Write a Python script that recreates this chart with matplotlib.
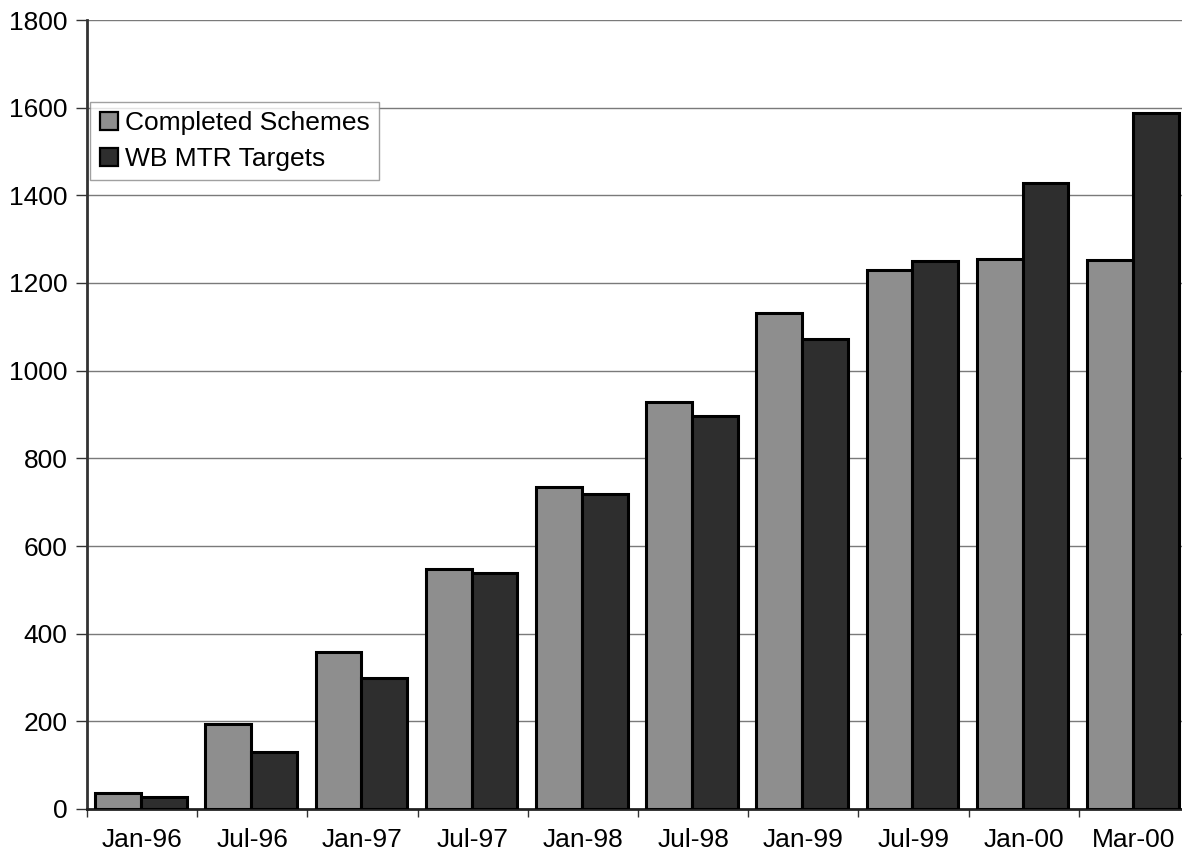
import matplotlib
matplotlib.use("Agg")
import matplotlib.pyplot as plt
import numpy as np
from matplotlib.ticker import FixedLocator, NullFormatter

categories = ["Jan-96", "Jul-96", "Jan-97", "Jul-97", "Jan-98", "Jul-98",
              "Jan-99", "Jul-99", "Jan-00", "Mar-00"]
completed = [36, 194, 358, 547, 734, 928, 1131, 1229, 1254, 1252]
targets = [27, 130, 299, 538, 718, 896, 1072, 1250, 1428, 1587]
yticks = [0, 200, 400, 600, 800, 1000, 1200, 1400, 1600, 1800]

plt.rcParams['font.family'] = ['Liberation Sans', 'DejaVu Sans']

W, H = 1182, 857
fig = plt.figure(figsize=(W / 100, H / 100), dpi=100)
left, right, top, bottom = 87, 1189, 20, 809
ax = fig.add_axes([left / W, 1 - bottom / H, (right - left) / W, (bottom - top) / H])

x = np.arange(len(categories)) + 0.5
w = 0.415
ax.bar(x - w / 2 - 0.01, completed, w, color='#8e8e8e', edgecolor='black',
       linewidth=2.2, label='Completed Schemes', zorder=3)
ax.bar(x + w / 2 - 0.01, targets, w, color='#2e2e2e', edgecolor='black',
       linewidth=2.2, label='WB MTR Targets', zorder=3)

ax.set_xlim(0, len(categories))
ax.set_ylim(0, 1800)
ax.set_yticks(yticks)
ax.set_yticklabels([str(v) for v in yticks])
ax.yaxis.grid(True, color='#7a7a7a', linewidth=1.0, zorder=0)
ax.set_axisbelow(True)

ax.xaxis.set_major_locator(FixedLocator(np.arange(0, len(categories) + 1)))
ax.xaxis.set_major_formatter(NullFormatter())
ax.xaxis.set_minor_locator(FixedLocator(x))
ax.set_xticklabels(categories, minor=True)
ax.tick_params(axis='x', which='minor', length=0, pad=14, labelsize=19)
ax.tick_params(axis='x', which='major', length=6, width=1.0, color='#333333')
ax.tick_params(axis='y', length=8, width=1.0, color='#333333', labelsize=19, pad=6)

for s in ['top', 'right']:
    ax.spines[s].set_visible(False)
ax.spines['left'].set_linewidth(2.0)
ax.spines['left'].set_color('#333333')
ax.spines['bottom'].set_linewidth(2.0)
ax.spines['bottom'].set_color('#222222')

leg = ax.legend(loc='upper left', bbox_to_anchor=(0.003, 0.896), borderaxespad=0,
                fontsize=19, frameon=True, fancybox=False, edgecolor='#888888',
                handlelength=0.7, handleheight=0.7, handletextpad=0.25,
                labelspacing=0.45, borderpad=0.35)
leg.get_frame().set_linewidth(1.0)
for h in leg.legend_handles:
    h.set_linewidth(1.6)

fig.savefig("out.png", dpi=100)
